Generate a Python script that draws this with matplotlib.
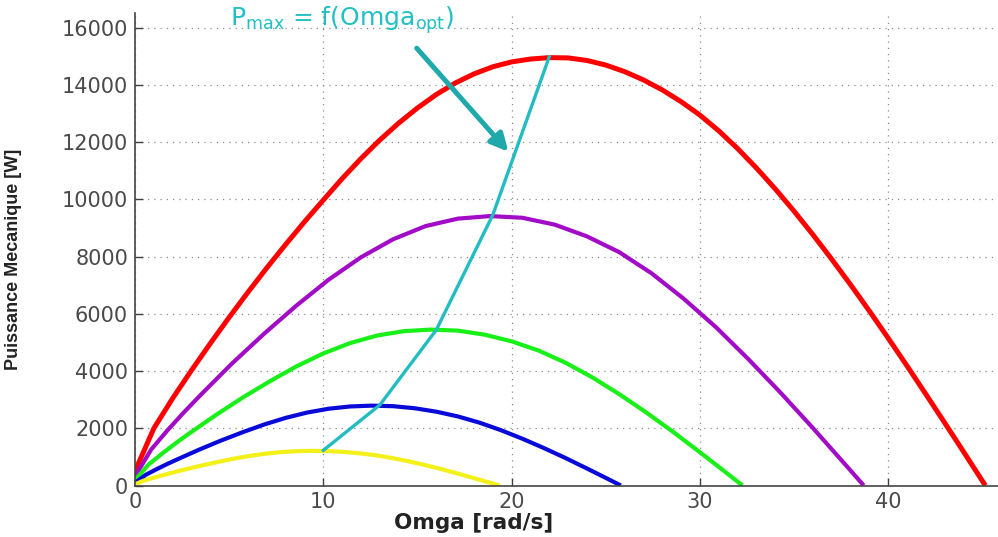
#!/usr/bin/env python3
"""Mechanical power vs rotor speed for several wind speeds, with the
P_max = f(Omega_opt) locus through the peaks."""

import matplotlib
matplotlib.use("Agg")
import matplotlib.pyplot as plt

# values: omega [rad/s], power [W]
red_w = [0, 1, 2, 3, 4, 5, 6, 7, 8, 9, 10, 11, 12, 13, 14, 15, 16, 17, 18,
         19, 20, 21, 22, 23, 24, 25, 26, 27, 28, 29, 30, 31, 32, 33, 34, 35,
         36, 37, 38, 39, 40, 41, 42, 43, 44, 45, 45.16]
red_p = [500, 2000, 3050, 4030, 4970, 5880, 6760, 7610, 8430, 9220, 9980,
         10730, 11430, 12080, 12670, 13200, 13670, 14070, 14390, 14640, 14810,
         14910, 14960, 14950, 14860, 14700, 14470, 14180, 13830, 13420, 12950,
         12400, 11780, 11100, 10370, 9590, 8770, 7910, 7020, 6100, 5150, 4180,
         3190, 2190, 1180, 160, 0]

purple_w = [0, 0.86, 1.71, 2.57, 3.43, 5.14, 6.86, 8.57, 10.29, 12.0, 13.71,
            15.43, 17.14, 18.86, 20.57, 22.29, 24.0, 25.71, 27.43, 29.14,
            30.86, 32.57, 34.29, 36.0, 37.71, 38.7]
purple_p = [315, 1260, 1920, 2540, 3130, 4260, 5310, 6290, 7200, 7980, 8610,
            9070, 9330, 9420, 9360, 9120, 8710, 8160, 7420, 6530, 5530, 4420,
            3240, 2010, 740, 0]

green_w = [0, 0.71, 1.43, 2.14, 2.86, 4.29, 5.71, 7.14, 8.57, 10.0, 11.43,
           12.86, 14.29, 15.71, 17.14, 18.57, 20.0, 21.43, 22.86, 24.29,
           25.71, 27.14, 28.57, 30.0, 31.43, 32.26]
green_p = [182, 729, 1111, 1469, 1811, 2463, 3072, 3637, 4165, 4617, 4981,
           5244, 5397, 5451, 5415, 5273, 5040, 4719, 4293, 3779, 3196, 2558,
           1877, 1162, 430, 0]

blue_w = [0, 0.57, 1.14, 1.71, 2.29, 3.43, 4.57, 5.71, 6.86, 8.0, 9.14,
          10.29, 11.43, 12.57, 13.71, 14.86, 16.0, 17.14, 18.29, 19.43, 20.57,
          21.71, 22.86, 24.0, 25.14, 25.8]
blue_p = [93, 373, 569, 752, 927, 1261, 1573, 1862, 2133, 2364, 2551, 2685,
          2764, 2792, 2773, 2700, 2581, 2416, 2198, 1935, 1636, 1310, 961,
          595, 220, 0]

yellow_w = [0, 0.43, 0.86, 1.29, 1.71, 2.57, 3.43, 4.29, 5.14, 6.0, 6.86,
            7.71, 8.57, 9.43, 10.29, 11.14, 12.0, 12.86, 13.71, 14.57, 15.43,
            16.29, 17.14, 18.0, 18.86, 19.36]
yellow_p = [40, 162, 247, 326, 403, 548, 683, 808, 926, 1026, 1107, 1166,
            1200, 1212, 1204, 1172, 1120, 1049, 954, 840, 710, 569, 417, 258,
            96, 0]

# optimum points joined by the cyan locus
opt_w = [10.0, 13.0, 16.0, 19.0, 22.0]
opt_p = [1230, 2815, 5440, 9460, 14990]

x_ticks = [0, 10, 20, 30, 40]
y_ticks = [0, 2000, 4000, 6000, 8000, 10000, 12000, 14000, 16000]

fig = plt.figure(figsize=(9.98, 5.37), dpi=100)
ax = fig.add_axes([0.1353, 0.0959, 0.8647, 0.8799])

ax.plot(red_w, red_p, color="#ff0000", lw=3.6, solid_capstyle="butt")
ax.plot(purple_w, purple_p, color="#a20cc6", lw=3.0, solid_capstyle="butt")
ax.plot(green_w, green_p, color="#19f019", lw=3.0, solid_capstyle="butt")
ax.plot(blue_w, blue_p, color="#0a0ad8", lw=3.0, solid_capstyle="butt")
ax.plot(yellow_w, yellow_p, color="#f4f01a", lw=3.0, solid_capstyle="butt")
ax.plot(opt_w, opt_p, color="#22bcc2", lw=2.4)

ax.annotate("", xy=(19.83, 11670), xytext=(14.96, 15290),
            arrowprops=dict(arrowstyle="-|>", color="#1fa9ab", lw=3.6,
                            mutation_scale=26, shrinkA=0, shrinkB=0))
ax.text(5.05, 16080, r"$\mathregular{P_{max}}$ = f(Omga$\mathregular{_{opt}}$)",
        color="#22c0c6", fontsize=18, va="baseline", ha="left", clip_on=False)

ax.set_xlim(0, 45.83)
ax.set_ylim(0, 16520)
ax.set_xticks(x_ticks)
ax.set_yticks(y_ticks)
ax.grid(True, color="#8c8c8c", linestyle=(0, (1, 4)), lw=0.9)
ax.tick_params(direction="in", length=6, width=1, colors="#404040",
               labelsize=15, labelcolor="#4a4a4a", pad=5)
for side in ("top", "right"):
    ax.spines[side].set_visible(False)
for side in ("left", "bottom"):
    ax.spines[side].set_color("#444444")
    ax.spines[side].set_linewidth(1.2)

# label sits left of centre: the original axes ran past the cropped edge
ax.set_xlabel("Omga [rad/s]", fontsize=15.5, fontweight="bold", color="#222222",
              va="top")
ax.xaxis.set_label_coords(0.392, -0.058)
ax.set_ylabel("Puissance Mecanique [W]", fontsize=13, fontweight="bold",
              color="#222222", family=["Liberation Sans Narrow", "Liberation Sans"])
ax.yaxis.set_label_coords(-0.131, 0.479)

fig.savefig("out.png", dpi=100)
